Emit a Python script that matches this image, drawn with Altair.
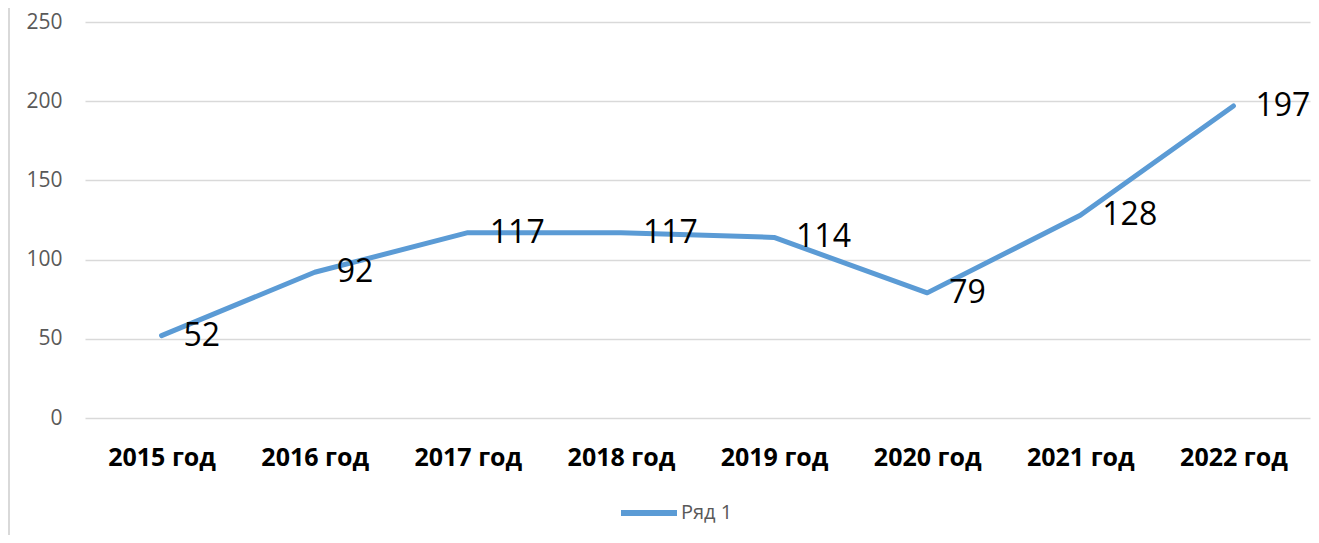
import altair as alt
import pandas as pd

years = ["2015 год", "2016 год", "2017 год", "2018 год", "2019 год", "2020 год", "2021 год", "2022 год"]
values = [52, 92, 117, 117, 114, 79, 128, 197]
series_name = "Ряд 1"
y_ticks = [0, 50, 100, 150, 200, 250]

df = pd.DataFrame({"year": years, "value": values, "series": [series_name] * len(years)})

W, H = 1225, 396
FONT = "Open Sans"
BLUE = "#5B9BD5"

x = alt.X("year:N", sort=years, scale=alt.Scale(type="point", padding=0.5),
          axis=alt.Axis(title=None, labelAngle=0, ticks=False, domain=False, grid=False,
                        labelFont=FONT, labelFontSize=25, labelFontWeight="bold",
                        labelColor="#000000", labelBaseline="middle", labelPadding=39))
y = alt.Y("value:Q", scale=alt.Scale(domain=[0, 250], nice=False, zero=True),
          axis=alt.Axis(title=None, values=y_ticks, ticks=False, domain=False, grid=True,
                        gridColor="#D9D9D9", gridWidth=1.3,
                        labelFont=FONT, labelFontSize=21, labelColor="#595959", labelPadding=23))

line = alt.Chart(df).mark_line(strokeWidth=5, strokeCap="round", strokeJoin="round").encode(
    x=x, y=y,
    color=alt.Color("series:N", scale=alt.Scale(domain=[series_name], range=[BLUE]),
                    legend=alt.Legend(title=None, orient="none", legendX=533, legendY=460,
                                      symbolType="stroke", symbolSize=3136, symbolStrokeWidth=6,
                                      labelFont=FONT, labelFontSize=20, labelColor="#595959",
                                      labelOffset=1, symbolStrokeColor=BLUE))
)

labels = alt.Chart(df).mark_text(align="left", baseline="middle", dx=22, font=FONT,
                                 fontSize=32, color="#000000").encode(
    x=alt.X("year:N", sort=years), y="value:Q", text="value:Q"
)

border = alt.Chart(df).mark_rule(color="#D9D9D9", strokeWidth=1.5).encode(
    x=alt.value(-76), y=alt.value(-14), y2=alt.value(H + 117)
)

chart = alt.layer(border, line, labels).properties(
    width=W, height=H,
    padding={"left": 77, "top": 14, "right": 1, "bottom": 117},
    autosize=alt.AutoSizeParams(type="none"),
).configure_view(stroke=None)

chart.save("out.html", embed_options={"renderer": "svg", "actions": False})
